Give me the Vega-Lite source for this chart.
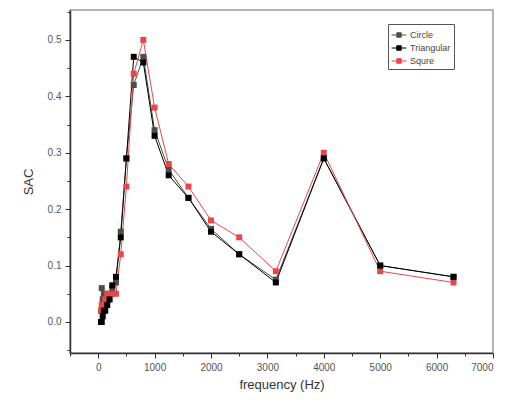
{
  "$schema": "https://vega.github.io/schema/vega-lite/v6.json",
  "width": 423,
  "height": 343,
  "autosize": {"type": "none"},
  "padding": {"left": 70, "top": 10, "right": 19, "bottom": 54},
  "background": "white",
  "config": {
    "font": "Liberation Sans",
    "view": {"stroke": "#9a9a9a", "strokeWidth": 1.5}
  },
  "data": {
    "values": [
      {"f": 50, "s": "Circle", "v": 0.02}, {"f": 63, "s": "Circle", "v": 0.06}, {"f": 80, "s": "Circle", "v": 0.04}, {"f": 100, "s": "Circle", "v": 0.05}, {"f": 125, "s": "Circle", "v": 0.03}, {"f": 160, "s": "Circle", "v": 0.04}, {"f": 200, "s": "Circle", "v": 0.05}, {"f": 250, "s": "Circle", "v": 0.06}, {"f": 315, "s": "Circle", "v": 0.07}, {"f": 400, "s": "Circle", "v": 0.16}, {"f": 500, "s": "Circle", "v": 0.29}, {"f": 630, "s": "Circle", "v": 0.42}, {"f": 800, "s": "Circle", "v": 0.47}, {"f": 1000, "s": "Circle", "v": 0.34}, {"f": 1250, "s": "Circle", "v": 0.27}, {"f": 1600, "s": "Circle", "v": 0.22}, {"f": 2000, "s": "Circle", "v": 0.165}, {"f": 2500, "s": "Circle", "v": 0.12}, {"f": 3150, "s": "Circle", "v": 0.075}, {"f": 4000, "s": "Circle", "v": 0.29}, {"f": 5000, "s": "Circle", "v": 0.1}, {"f": 6300, "s": "Circle", "v": 0.08},
      {"f": 50, "s": "Triangular", "v": 0.0}, {"f": 63, "s": "Triangular", "v": 0.0}, {"f": 80, "s": "Triangular", "v": 0.01}, {"f": 100, "s": "Triangular", "v": 0.02}, {"f": 125, "s": "Triangular", "v": 0.02}, {"f": 160, "s": "Triangular", "v": 0.03}, {"f": 200, "s": "Triangular", "v": 0.04}, {"f": 250, "s": "Triangular", "v": 0.065}, {"f": 315, "s": "Triangular", "v": 0.08}, {"f": 400, "s": "Triangular", "v": 0.15}, {"f": 500, "s": "Triangular", "v": 0.29}, {"f": 630, "s": "Triangular", "v": 0.47}, {"f": 800, "s": "Triangular", "v": 0.46}, {"f": 1000, "s": "Triangular", "v": 0.33}, {"f": 1250, "s": "Triangular", "v": 0.26}, {"f": 1600, "s": "Triangular", "v": 0.22}, {"f": 2000, "s": "Triangular", "v": 0.16}, {"f": 2500, "s": "Triangular", "v": 0.12}, {"f": 3150, "s": "Triangular", "v": 0.07}, {"f": 4000, "s": "Triangular", "v": 0.29}, {"f": 5000, "s": "Triangular", "v": 0.1}, {"f": 6300, "s": "Triangular", "v": 0.08},
      {"f": 50, "s": "Squre", "v": 0.02}, {"f": 63, "s": "Squre", "v": 0.03}, {"f": 80, "s": "Squre", "v": 0.02}, {"f": 100, "s": "Squre", "v": 0.03}, {"f": 125, "s": "Squre", "v": 0.04}, {"f": 160, "s": "Squre", "v": 0.05}, {"f": 200, "s": "Squre", "v": 0.04}, {"f": 250, "s": "Squre", "v": 0.05}, {"f": 315, "s": "Squre", "v": 0.05}, {"f": 400, "s": "Squre", "v": 0.12}, {"f": 500, "s": "Squre", "v": 0.24}, {"f": 630, "s": "Squre", "v": 0.44}, {"f": 800, "s": "Squre", "v": 0.5}, {"f": 1000, "s": "Squre", "v": 0.38}, {"f": 1250, "s": "Squre", "v": 0.28}, {"f": 1600, "s": "Squre", "v": 0.24}, {"f": 2000, "s": "Squre", "v": 0.18}, {"f": 2500, "s": "Squre", "v": 0.15}, {"f": 3150, "s": "Squre", "v": 0.09}, {"f": 4000, "s": "Squre", "v": 0.3}, {"f": 5000, "s": "Squre", "v": 0.09}, {"f": 6300, "s": "Squre", "v": 0.07}
    ]
  },
  "encoding": {
    "x": {
      "field": "f", "type": "quantitative",
      "scale": {"domain": [-500, 7000], "nice": false, "zero": false},
      "axis": {
        "title": "frequency (Hz)", "titleFontSize": 13, "titleFontWeight": "normal", "titleColor": "#333333", "titlePadding": 6,
        "values": [-500, 0, 500, 1000, 1500, 2000, 2500, 3000, 3500, 4000, 4500, 5000, 5500, 6000, 6500, 7000],
        "labelExpr": "datum.value % 1000 === 0 ? datum.label : ''",
        "format": "d", "labelFontSize": 10, "labelColor": "#555555",
        "domainColor": "#333333", "domainWidth": 1.5, "tickColor": "#333333",
        "tickSize": {"condition": {"test": "datum.value % 1000 !== 0", "value": 3}, "value": 5},
        "grid": false, "labelPadding": 4
      }
    },
    "y": {
      "field": "v", "type": "quantitative",
      "scale": {"domain": [-0.055, 0.553], "nice": false, "zero": false},
      "axis": {
        "title": "SAC", "titleFontSize": 13, "titleFontWeight": "normal", "titleColor": "#333333", "titlePadding": 12,
        "values": [-0.05, 0, 0.05, 0.1, 0.15, 0.2, 0.25, 0.3, 0.35, 0.4, 0.45, 0.5, 0.55],
        "labelExpr": "abs(datum.value*10 - round(datum.value*10)) < 0.01 ? format(datum.value, '.1f') : ''",
        "labelFontSize": 10, "labelColor": "#555555",
        "domainColor": "#333333", "domainWidth": 1.5, "tickColor": "#333333",
        "tickSize": {"condition": {"test": "abs(datum.value*10 - round(datum.value*10)) > 0.01", "value": 3}, "value": 5},
        "grid": false, "labelPadding": 4
      }
    },
    "color": {
      "field": "s", "type": "nominal",
      "sort": ["Circle", "Triangular", "Squre"],
      "scale": {"domain": ["Circle", "Triangular", "Squre"], "range": ["#4a4f4a", "#000000", "#e8474a"]},
      "legend": {
        "title": null, "orient": "none",
        "legendX": 318, "legendY": 14,
        "strokeColor": "#555555", "padding": 3, "fillColor": "white",
        "labelFontSize": 9, "labelColor": "#444444",
        "symbolType": "M-1,0H-0.3M0.3,0H1M-0.3,-0.3H0.3V0.3H-0.3Z",
        "symbolSize": 220, "symbolStrokeWidth": 1,
        "rowPadding": 0, "labelOffset": 3
      }
    },
    "order": {"field": "s"}
  },
  "layer": [
    {"mark": {"type": "line", "strokeWidth": 1}},
    {"mark": {"type": "point", "shape": "square", "filled": true, "size": 36, "opacity": 1}}
  ]
}
